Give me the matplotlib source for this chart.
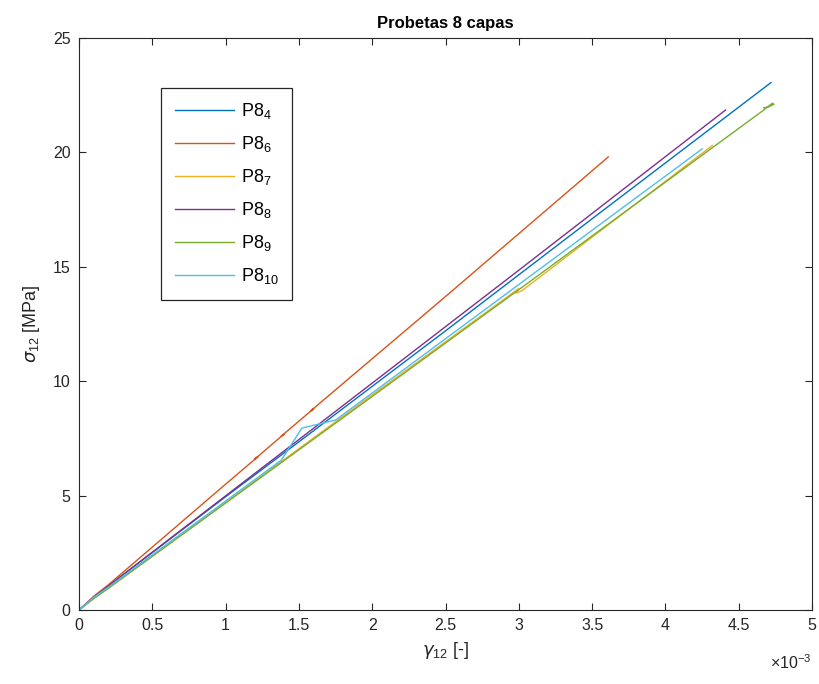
import numpy as np
import matplotlib
matplotlib.use('Agg')
import matplotlib.pyplot as plt
from matplotlib.ticker import FuncFormatter, MultipleLocator

plt.rcParams['font.family'] = ['Liberation Sans', 'DejaVu Sans']
plt.rcParams['mathtext.fontset'] = 'custom'
plt.rcParams['mathtext.rm'] = 'Liberation Sans'
plt.rcParams['mathtext.it'] = 'DejaVu Sans:italic'

# strain in units of 1e-3, stress in MPa
g_p84 = [0, 0.10, 0.20, 1.00, 1.50, 2.50, 3.50, 4.72]
s_p84 = [0, 0.55, 1.05, 4.95, 7.35, 12.2, 17.1, 23.05]

g_p86 = [0, 0.10, 0.20, 1.00, 1.22, 1.20, 1.40, 1.38, 1.60, 1.58, 2.50, 3.61]
s_p86 = [0, 0.60, 1.10, 5.50, 6.70, 6.60, 7.70, 7.60, 8.80, 8.70, 13.7, 19.8]

g_p87 = [0, 0.10, 0.20, 1.00, 2.00, 3.00, 2.98, 3.02, 4.32]
s_p87 = [0, 0.50, 0.95, 4.70, 9.40, 14.05, 13.85, 13.95, 20.3]

g_p88 = [0, 0.10, 0.20, 1.50, 3.00, 4.41]
s_p88 = [0, 0.55, 1.05, 7.45, 14.85, 21.85]

g_p89 = [0, 0.10, 0.20, 1.50, 3.00, 4.66, 4.70, 4.73, 4.74, 4.70, 4.67]
s_p89 = [0, 0.50, 0.95, 7.00, 14.0, 21.80, 22.0, 22.15, 22.1, 21.98, 21.95]

g_p810 = [0, 0.10, 0.20, 1.38, 1.52, 1.75, 4.25]
s_p810 = [0, 0.55, 1.00, 6.55, 7.95, 8.30, 20.15]

labels = ['P8$_{4}$', 'P8$_{6}$', 'P8$_{7}$', 'P8$_{8}$', 'P8$_{9}$', 'P8$_{10}$']
colors = ['#0072BD', '#D95319', '#EDB120', '#7E2F8E', '#77AC30', '#4DBEEE']

curves = [(g_p84, s_p84), (g_p86, s_p86), (g_p87, s_p87),
          (g_p88, s_p88), (g_p89, s_p89), (g_p810, s_p810)]

grey = '#262626'
fig = plt.figure(figsize=(8.19, 6.84), dpi=100)
ax = fig.add_axes([0.0965, 0.1082, 0.895, 0.8363])

for (g, s), lab, c in zip(curves, labels, colors):
    ax.plot(np.array(g) * 1e-3, s, color=c, lw=1.0, label=lab)

ax.set_xlim(0, 5e-3)
ax.set_ylim(0, 25)
ax.xaxis.set_major_locator(MultipleLocator(0.5e-3))
ax.yaxis.set_major_locator(MultipleLocator(5))
ax.xaxis.set_major_formatter(FuncFormatter(lambda v, p: f'{v * 1e3:g}'))
ax.tick_params(direction='in', top=True, right=True, length=5, width=0.8,
               colors=grey, labelsize=11.5, pad=6)
for sp in ax.spines.values():
    sp.set_color(grey)
    sp.set_linewidth(0.8)

ax.set_title('Probetas 8 capas', fontsize=12, fontweight='bold', color='black', pad=7)
ax.set_xlabel(r'$\gamma_{12}$ [-]', fontsize=13, color=grey, labelpad=5)
ax.set_ylabel(r'$\sigma_{12}$ [MPa]', fontsize=13, color=grey, labelpad=8)
ax.text(1.0, -0.075, r'$\times10^{-3}$', transform=ax.transAxes, ha='right',
        va='top', fontsize=11.5, color=grey)

leg = ax.legend(loc='upper left', bbox_to_anchor=(0.112, 0.9126), borderaxespad=0,
                fancybox=False, edgecolor=grey, fontsize=13, handlelength=3.3,
                labelspacing=0.72, borderpad=0.75, handletextpad=0.35, framealpha=1)
leg.get_frame().set_linewidth(0.9)

fig.savefig('out.png', dpi=100)
